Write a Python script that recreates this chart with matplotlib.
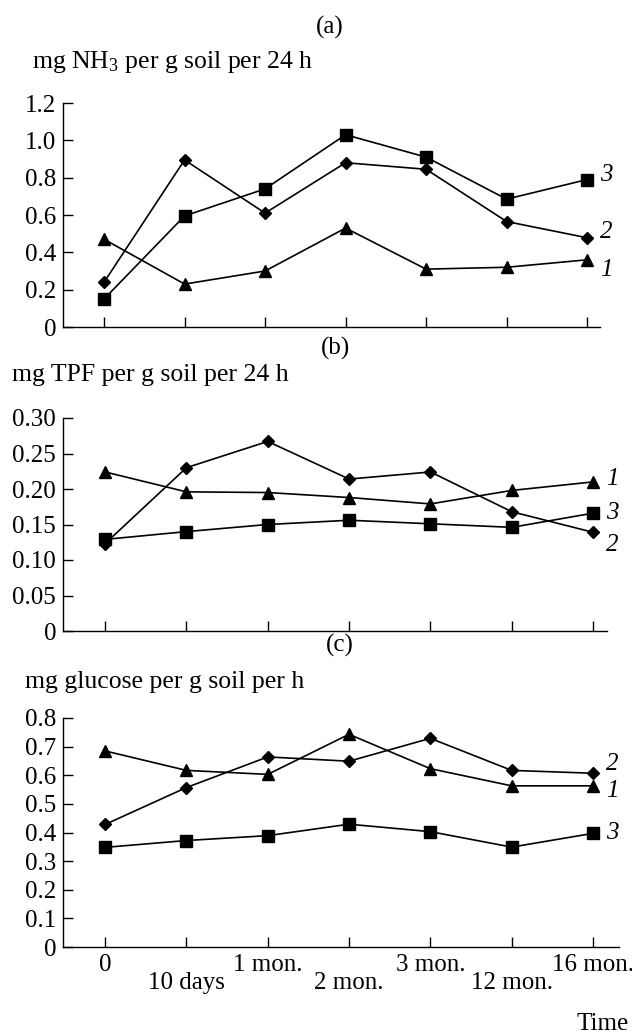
import matplotlib
matplotlib.use("Agg")
import matplotlib.pyplot as plt

plt.rcParams['font.family'] = ['Liberation Serif', 'DejaVu Serif']
plt.rcParams['mathtext.fontset'] = 'custom'
plt.rcParams['mathtext.rm'] = 'Liberation Serif'
plt.rcParams['mathtext.it'] = 'Liberation Serif:italic'

W, H = 632, 1034

# time points (evenly spaced on the axis)
time_labels = ["0", "10 days", "1 mon.", "2 mon.", "3 mon.", "12 mon.", "16 mon."]
x = list(range(len(time_labels)))

# (a) urease, mg NH3 per g soil per 24 h
nh3_1 = [0.47, 0.23, 0.30, 0.53, 0.31, 0.32, 0.36]
nh3_2 = [0.24, 0.895, 0.61, 0.88, 0.845, 0.565, 0.478]
nh3_3 = [0.15, 0.595, 0.74, 1.03, 0.91, 0.685, 0.79]

# (b) dehydrogenase, mg TPF per g soil per 24 h
tpf_1 = [0.224, 0.196, 0.195, 0.188, 0.179, 0.198, 0.210]
tpf_2 = [0.123, 0.230, 0.267, 0.214, 0.224, 0.168, 0.139]
tpf_3 = [0.129, 0.140, 0.150, 0.156, 0.151, 0.146, 0.166]

# (c) invertase, mg glucose per g soil per h
glu_1 = [0.685, 0.617, 0.603, 0.743, 0.623, 0.563, 0.563]
glu_2 = [0.428, 0.557, 0.664, 0.649, 0.729, 0.617, 0.607]
glu_3 = [0.348, 0.372, 0.389, 0.429, 0.403, 0.349, 0.397]

fig = plt.figure(figsize=(W / 100, H / 100), dpi=100)


def make_ax(left, top, right, bottom):
    # box given in pixels from the top-left corner
    return fig.add_axes([left / W, 1 - bottom / H, (right - left) / W, (bottom - top) / H])


def style(ax, ylim, yticks, yfmt, xlim):
    ax.set_xlim(*xlim)
    ax.set_ylim(*ylim)
    ax.set_yticks(yticks)
    ax.set_yticklabels([yfmt(v) for v in yticks])
    ax.set_xticks(x)
    ax.spines['top'].set_visible(False)
    ax.spines['right'].set_visible(False)
    for s in ('left', 'bottom'):
        ax.spines[s].set_linewidth(1.0)
    ax.tick_params(axis='both', which='both', direction='in', length=7, width=1.0,
                   labelsize=18, pad=5)


def draw(ax, s1, s2, s3, offs):
    kw = dict(color='black', lw=1.2, clip_on=False)
    ax.plot(x, s1, marker='^', ms=9, **kw)
    ax.plot(x, s2, marker='D', ms=6.5, **kw)
    ax.plot(x, s3, marker='s', ms=8.5, **kw)
    for name, s, dy in zip(['1', '2', '3'], [s1, s2, s3], offs):
        ax.annotate(name, xy=(x[-1], s[-1]), xytext=(14, dy), textcoords='offset points',
                    ha='center', va='center', fontsize=18, style='italic')


def fmt1(v):
    return '0' if v == 0 else '%.1f' % v


def fmt2(v):
    return '0' if v == 0 else '%.2f' % v


# panel (a)
ax1 = make_ax(63, 103, 600, 327)
style(ax1, (0, 1.2), [0, 0.2, 0.4, 0.6, 0.8, 1.0, 1.2], fmt1, (-0.51, 6.16))
ax1.set_xticklabels([])
draw(ax1, nh3_1, nh3_2, nh3_3, [-7, 4, 3])

# panel (b)
ax2 = make_ax(63, 418, 607, 631)
style(ax2, (0, 0.30), [0, 0.05, 0.10, 0.15, 0.20, 0.25, 0.30], fmt2, (-0.517, 6.17))
ax2.set_xticklabels([])
draw(ax2, tpf_1, tpf_2, tpf_3, [2, -9, 0])

# panel (c)
ax3 = make_ax(63, 718, 619, 947)
style(ax3, (0, 0.8), [0, 0.1, 0.2, 0.3, 0.4, 0.5, 0.6, 0.7, 0.8], fmt1, (-0.517, 6.32))
draw(ax3, glu_1, glu_2, glu_3, [-4, 7, 0])
# staggered time labels: even ones on the upper row, odd ones lower
ax3.set_xticks(x[0::2])
ax3.set_xticklabels(time_labels[0::2])
ax3.set_xticks(x[1::2], minor=True)
ax3.set_xticklabels(time_labels[1::2], minor=True)
ax3.tick_params(axis='x', which='major', pad=5)
ax3.tick_params(axis='x', which='minor', pad=18)

# panel titles and axis captions
fig.text(330 / W, 1 - 27 / H, '(a)', ha='center', va='center', fontsize=18)
fig.text(335 / W, 1 - 348 / H, '(b)', ha='center', va='center', fontsize=18)
fig.text(340 / W, 1 - 645 / H, '(c)', ha='center', va='center', fontsize=18)
fig.text(32 / W, 1 - 62 / H, r'mg NH$_3$ per g soil per 24 h', ha='left', va='center', fontsize=18.5)
fig.text(12 / W, 1 - 375 / H, 'mg TPF per g soil per 24 h', ha='left', va='center', fontsize=18.5)
fig.text(25 / W, 1 - 682 / H, 'mg glucose per g soil per h', ha='left', va='center', fontsize=18.5)
fig.text(629 / W, 1 - 1024 / H, 'Time', ha='right', va='center', fontsize=18)

fig.savefig('out.png', dpi=100)
